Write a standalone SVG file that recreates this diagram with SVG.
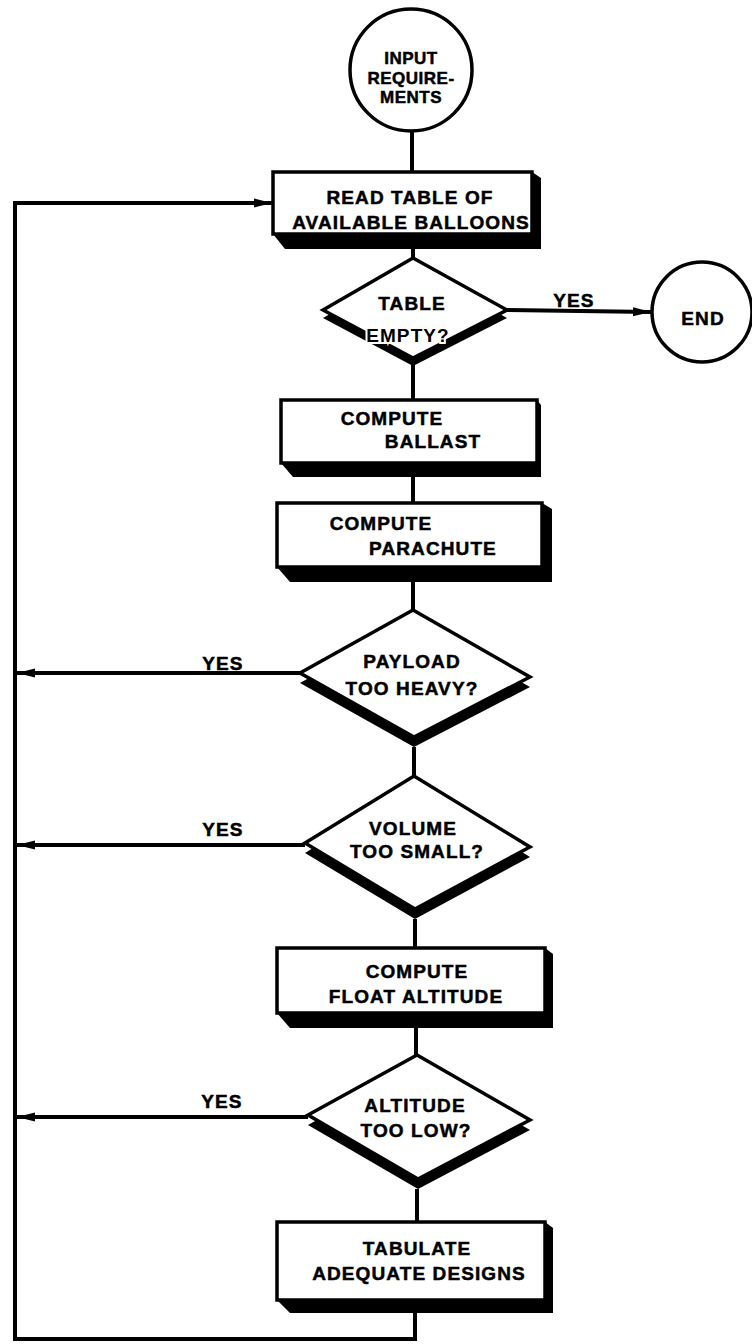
<svg xmlns="http://www.w3.org/2000/svg" width="752" height="1344" viewBox="0 0 752 1344">
<style>
.t{font-family:"Liberation Sans",Arial,sans-serif;font-weight:bold;font-size:19px;letter-spacing:1.1px;fill:#000;stroke:#000;stroke-width:0.5;text-anchor:middle}
.c{font-size:17px;letter-spacing:0.5px}
.halo{stroke:#fff;stroke-width:4;paint-order:stroke}
.box{fill:#fff;stroke:#000;stroke-width:3.5}
.sh{fill:#000}
.ln{fill:none;stroke:#000;stroke-width:4}
</style>
<defs>
<marker id="ar" viewBox="0 0 18 10" refX="18" refY="5" markerWidth="18" markerHeight="10" markerUnits="userSpaceOnUse" orient="auto">
<path d="M0,0.5 L18,5 L0,9.5 Z" fill="#000"/>
</marker>
</defs>
<rect width="752" height="1344" fill="#fff"/>
<g id="connectors">
<line class="ln" x1="412" y1="132" x2="412" y2="172"/>
<line class="ln" x1="413" y1="249" x2="413" y2="258"/>
<line class="ln" x1="413" y1="364" x2="413" y2="400"/>
<line class="ln" x1="413" y1="477" x2="413" y2="503"/>
<line class="ln" x1="413" y1="582" x2="413" y2="610"/>
<line class="ln" x1="414" y1="747" x2="414" y2="776"/>
<line class="ln" x1="415" y1="919" x2="415" y2="948"/>
<line class="ln" x1="416" y1="1028" x2="416" y2="1055"/>
<line class="ln" x1="417" y1="1189" x2="417" y2="1222"/>
<polyline class="ln" points="415,1313 415,1339 15,1339 15,203 272,203" marker-end="url(#ar)"/>
<line class="ln" x1="507" y1="310" x2="651" y2="312" marker-end="url(#ar)"/>
<line class="ln" x1="300" y1="673" x2="17" y2="673" marker-end="url(#ar)"/>
<line class="ln" x1="305" y1="845" x2="17" y2="845" marker-end="url(#ar)"/>
<line class="ln" x1="308" y1="1117" x2="17" y2="1117" marker-end="url(#ar)"/>
<text class="t" x="574" y="307">YES</text>
<text class="t" x="223" y="670">YES</text>
<text class="t" x="223" y="836">YES</text>
<text class="t" x="222" y="1108">YES</text>
</g>
<g id="start">
<circle class="box" cx="411" cy="70" r="61"/>
<text class="t c" x="411" y="64">INPUT</text>
<text class="t c" x="411" y="84">REQUIRE-</text>
<text class="t c" x="411" y="103">MENTS</text>
</g>
<g id="read">
<polygon class="sh" points="273,234 285,249 541,249 541,178 532,172"/>
<rect class="box" x="273" y="172" width="259" height="62"/>
<text class="t" x="410" y="204">READ TABLE OF</text>
<text class="t" x="411" y="229">AVAILABLE BALLOONS</text>
</g>
<g id="empty">
<polygon class="sh" points="323,318 413,266 507,318 413,366"/>
<polygon class="box" points="323,310 413,258 507,310 413,358"/>
<text class="t" x="412" y="310">TABLE</text>
<text class="t halo" x="408" y="342">EMPTY?</text>
</g>
<g id="end">
<circle class="box" cx="702" cy="312" r="50"/>
<text class="t" x="703" y="325">END</text>
</g>
<g id="ballast">
<polygon class="sh" points="281,463 293,477 541,477 541,405 537,400"/>
<rect class="box" x="281" y="400" width="256" height="63"/>
<text class="t" x="392" y="425">COMPUTE</text>
<text class="t" x="433" y="448">BALLAST</text>
</g>
<g id="parachute">
<polygon class="sh" points="277,567 290,582 552,582 552,509 542,503"/>
<rect class="box" x="277" y="503" width="265" height="64"/>
<text class="t" x="381" y="530">COMPUTE</text>
<text class="t" x="433" y="555">PARACHUTE</text>
</g>
<g id="payload">
<polygon class="sh" points="300,683 413,620 530,687 414,747"/>
<polygon class="box" points="300,673 413,610 530,677 414,737"/>
<text class="t" x="412" y="668">PAYLOAD</text>
<text class="t" x="412" y="695">TOO HEAVY?</text>
</g>
<g id="volume">
<polygon class="sh" points="305,853 414,786 530,857 415,919"/>
<polygon class="box" points="305,843 414,776 530,847 415,909"/>
<text class="t" x="413" y="835">VOLUME</text>
<text class="t" x="417" y="858">TOO SMALL?</text>
</g>
<g id="float">
<polygon class="sh" points="277,1013 290,1028 553,1028 553,954 545,948"/>
<rect class="box" x="277" y="948" width="268" height="65"/>
<text class="t" x="417" y="978">COMPUTE</text>
<text class="t" x="416" y="1003">FLOAT ALTITUDE</text>
</g>
<g id="altitude">
<polygon class="sh" points="308,1125 417,1065 530,1130 418,1189"/>
<polygon class="box" points="308,1115 417,1055 530,1120 418,1179"/>
<text class="t" x="415" y="1112">ALTITUDE</text>
<text class="t" x="416" y="1137">TOO LOW?</text>
</g>
<g id="tabulate">
<polygon class="sh" points="277,1300 290,1313 553,1313 553,1228 545,1222"/>
<rect class="box" x="277" y="1222" width="268" height="78"/>
<text class="t" x="417" y="1255">TABULATE</text>
<text class="t" x="419" y="1280">ADEQUATE DESIGNS</text>
</g>
</svg>
